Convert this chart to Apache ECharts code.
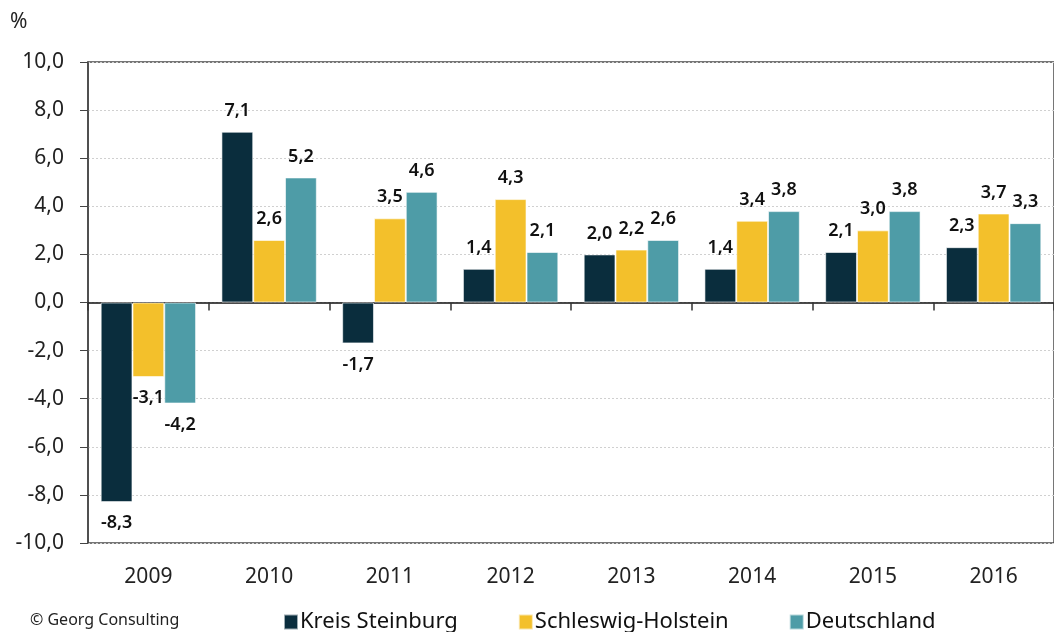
<!DOCTYPE html>
<html>
<head>
<meta charset="utf-8">
<script src="https://cdn.jsdelivr.net/npm/echarts@6/dist/echarts.min.js"></script>
<style>
  html, body { margin: 0; padding: 0; background: #fff; }
  #chart { width: 1054px; height: 632px; }
</style>
</head>
<body>
<div id="chart"></div>
<script>
// Daten
var years = ['2009', '2010', '2011', '2012', '2013', '2014', '2015', '2016'];
var kreisSteinburg = [-8.3, 7.1, -1.7, 1.4, 2.0, 1.4, 2.1, 2.3];
var schleswigHolstein = [-3.1, 2.6, 3.5, 4.3, 2.2, 3.4, 3.0, 3.7];
var deutschland = [-4.2, 5.2, 4.6, 2.1, 2.6, 3.8, 3.8, 3.3];

var seriesNames = ['Kreis Steinburg', 'Schleswig-Holstein', 'Deutschland'];
var colors = ['#0a2d3d', '#f3c02b', '#4e9ca7'];

var fmt = function (v) {
  return v.toFixed(1).replace('.', ',');
};

// negative Werte: Label unter dem Balken
function toData(arr) {
  return arr.map(function (v) {
    return { value: v, label: { position: v < 0 ? 'bottom' : 'top' } };
  });
}

function makeSeries(name, arr, color) {
  return {
    name: name,
    type: 'bar',
    xAxisIndex: 0,
    data: toData(arr),
    barGap: '0%',
    barCategoryGap: '21%',
    itemStyle: { color: color, borderColor: 'rgba(255,255,255,0.6)', borderWidth: 1 },
    label: {
      show: true,
      distance: 12,
      color: '#111',
      fontFamily: 'Noto Sans',
      fontWeight: 600,
      fontSize: 18,
      formatter: function (p) { return fmt(p.value); }
    }
  };
}

var chart = echarts.init(document.getElementById('chart'));

var option = {
  animation: false,
  textStyle: { fontFamily: 'Noto Sans' },
  grid: {
    left: 88, right: -12, top: 62, bottom: 89,
    show: true,
    borderColor: '#4a4a4a',
    borderWidth: 1.5
  },
  legend: {
    left: 278,
    top: 606,
    itemWidth: 14,
    itemHeight: 15,
    itemGap: 60,
    icon: 'rect',
    textStyle: { fontSize: 22, color: '#111', fontFamily: 'Noto Sans', padding: [0, 0, 0, -3] },
    data: seriesNames
  },
  graphic: [
    { type: 'text', left: 10, top: 12, style: { text: '%', fontSize: 21, fill: '#222', fontFamily: 'Noto Sans' } },
    { type: 'text', left: 30, top: 612, style: { text: '© Georg Consulting', fontSize: 16, fill: '#222', fontFamily: 'Noto Sans' } }
  ],
  xAxis: [
    {
      type: 'category',
      data: years,
      position: 'bottom',
      axisLine: { show: false, onZero: false },
      axisTick: { show: false },
      axisLabel: { fontSize: 21, color: '#222', margin: 24 }
    },
    {
      type: 'category',
      data: years,
      position: 'bottom',
      axisLine: { show: true, onZero: true, lineStyle: { color: '#111', width: 1.5 } },
      axisTick: { show: true, length: 8, lineStyle: { color: '#333', width: 1.5 } },
      axisLabel: { show: false }
    }
  ],
  yAxis: {
    type: 'value',
    min: -10,
    max: 10,
    interval: 2,
    axisLine: { show: true, lineStyle: { color: '#444', width: 1.5 } },
    axisTick: { show: true, length: 8, lineStyle: { color: '#444' } },
    axisLabel: {
      fontSize: 21, color: '#222', margin: 24,
      formatter: function (v) { return fmt(v); }
    },
    splitLine: { show: true, lineStyle: { color: '#d0d0d0', type: [2, 2], width: 1 } }
  },
  series: [
    makeSeries(seriesNames[0], kreisSteinburg, colors[0]),
    makeSeries(seriesNames[1], schleswigHolstein, colors[1]),
    makeSeries(seriesNames[2], deutschland, colors[2])
  ]
};

chart.setOption(option);
</script>
</body>
</html>
